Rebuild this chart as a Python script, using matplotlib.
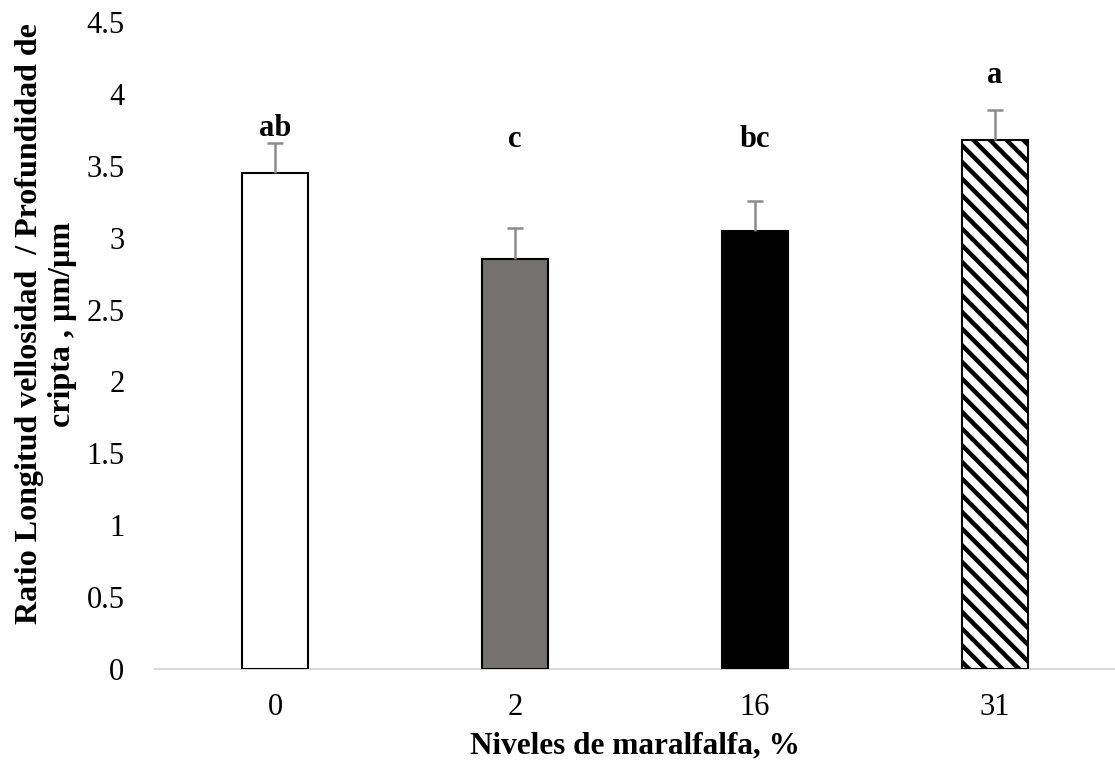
"""Villus length / crypt depth ratio by maralfalfa level (bar chart with SE)."""
import matplotlib
matplotlib.use("Agg")
import matplotlib.pyplot as plt
import numpy as np

levels = ["0", "2", "16", "31"]
ratio = [3.45, 2.855, 3.045, 3.68]
ratio_se = [0.21, 0.21, 0.21, 0.21]
letters = ["ab", "c", "bc", "a"]
letter_y = [3.76, 3.68, 3.68, 4.13]

fill_colors = ["white", "#767171", "black", "white"]
hatches = [None, None, None, "\\\\"]

plt.rcParams["font.family"] = ["Liberation Serif", "DejaVu Serif"]
plt.rcParams["hatch.linewidth"] = 3.2
plt.rcParams["hatch.color"] = "black"


def main():
    fig = plt.figure(figsize=(11.15, 7.67), dpi=100)
    ax = fig.add_axes([155 / 1115, 98 / 767, 960 / 1115, 647 / 767])

    x = np.arange(len(levels))
    bars = ax.bar(x, ratio, width=0.275, color=fill_colors,
                  edgecolor="black", linewidth=1.5, zorder=2)
    for b, h in zip(bars, hatches):
        if h:
            b.set_hatch(h)

    # Excel-style "plus" error bars: only the upper cap is shown
    _, caps, _ = ax.errorbar(x, ratio, yerr=[np.zeros(len(ratio)), ratio_se],
                             fmt="none", ecolor="#8c8c8c", elinewidth=1.8,
                             capsize=5.5, capthick=1.8, zorder=3)
    caps[0].set_visible(False)

    for xi, lab, ly in zip(x, letters, letter_y):
        ax.text(xi, ly, lab, ha="center", va="center", fontsize=22,
                fontweight="bold")

    ax.set_xlim(-0.5, len(levels) - 0.5)
    ax.set_ylim(0, 4.5)
    ax.set_yticks(np.arange(0, 4.51, 0.5))
    ax.set_yticklabels([f"{v:g}" for v in np.arange(0, 4.51, 0.5)])
    ax.set_xticks(x)
    ax.set_xticklabels(levels)
    ax.tick_params(axis="both", length=0, labelsize=22)
    ax.tick_params(axis="y", pad=22)
    ax.tick_params(axis="x", pad=17)

    for side in ["left", "right", "top"]:
        ax.spines[side].set_visible(False)
    ax.spines["bottom"].set_color("#d9d9d9")
    ax.spines["bottom"].set_linewidth(1.5)
    ax.spines["bottom"].set_zorder(1)

    ax.set_xlabel("Niveles de maralfalfa, %", fontsize=22.5, fontweight="bold",
                  labelpad=7)
    fig.text(46 / 1115, 1 - 324 / 767,
             "Ratio Longitud vellosidad  / Profundidad de\ncripta , µm/µm",
             rotation=90, ha="center", va="center", fontsize=23,
             fontweight="bold", linespacing=1.15, multialignment="center")

    fig.savefig("out.png", dpi=100)


if __name__ == "__main__":
    main()
